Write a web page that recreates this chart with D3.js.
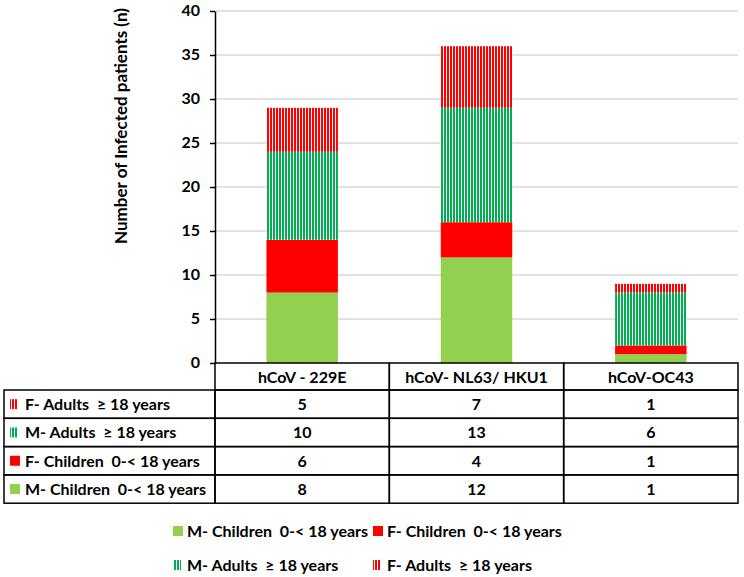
<!DOCTYPE html>
<html>
<head>
<meta charset="utf-8">
<script src="https://cdn.jsdelivr.net/npm/d3@7"></script>
<style>
  body { margin: 0; background: #fff; }
  svg { display: block; font-family: "Lato", "Liberation Sans", sans-serif; font-weight: bold; }
  svg text { white-space: pre; }
  .grid line { stroke: #d9d9d9; stroke-width: 1.5; }
  .y.axis path, .y.axis line { stroke: #000; stroke-width: 1.5; }
  .y.axis text { font-size: 16px; font-weight: bold; fill: #000; font-family: "Lato", sans-serif; }
  .cell { stroke: #000; stroke-width: 1.5; fill: none; }
</style>
</head>
<body>
<div id="chart"></div>
<script>
var categories = ["hCoV - 229E", "hCoV- NL63/ HKU1", "hCoV-OC43"];
var mChildren = [8, 12, 1];
var fChildren = [6, 4, 1];
var mAdults = [10, 13, 6];
var fAdults = [5, 7, 1];
var yTicks = [0, 5, 10, 15, 20, 25, 30, 35, 40];

var seriesNames = ["M- Children  0-< 18 years", "F- Children  0-< 18 years",
                   "M- Adults  \u2265 18 years", "F- Adults  \u2265 18 years"];
var seriesValues = [mChildren, fChildren, mAdults, fAdults];
var seriesFills = ["#92d050", "#ff0000", "url(#greenStripes)", "url(#redStripes)"];

var width = 744, height = 577;
var plotLeft = 215, plotRight = 738, plotTop = 11, plotBottom = 363;

var svg = d3.select("#chart").append("svg")
    .attr("width", width)
    .attr("height", height);

// stripe patterns
var defs = svg.append("defs");
function addStripes(id, color) {
    var p = defs.append("pattern")
        .attr("id", id)
        .attr("patternUnits", "userSpaceOnUse")
        .attr("width", 3)
        .attr("height", 10);
    p.append("rect").attr("width", 3).attr("height", 10).attr("fill", "#fff");
    p.append("rect").attr("width", 2).attr("height", 10).attr("fill", color);
}
addStripes("greenStripes", "#00b050");
addStripes("redStripes", "#ff0000");

var y = d3.scaleLinear().domain([0, 40]).range([plotBottom, plotTop]);
var x = d3.scaleBand().domain(categories).range([plotLeft, plotRight]);
var barWidth = x.bandwidth() * 0.41;

// gridlines
svg.append("g")
    .attr("class", "grid")
    .selectAll("line")
    .data(yTicks.filter(function (d) { return d > 0; }))
    .enter().append("line")
    .attr("x1", plotLeft).attr("x2", plotRight)
    .attr("y1", function (d) { return y(d); })
    .attr("y2", function (d) { return y(d); });

// stacked bars
var stackData = categories.map(function (c, i) {
    var row = { cat: c };
    seriesNames.forEach(function (s, j) { row[s] = seriesValues[j][i]; });
    return row;
});
var stack = d3.stack().keys(seriesNames)(stackData);

svg.append("g").selectAll("g")
    .data(stack)
    .enter().append("g")
    .attr("fill", function (d, i) { return seriesFills[i]; })
    .selectAll("rect")
    .data(function (d) { return d; })
    .enter().append("rect")
    .attr("x", function (d) { return x(d.data.cat) + (x.bandwidth() - barWidth) / 2; })
    .attr("width", barWidth)
    .attr("y", function (d) { return y(d[1]); })
    .attr("height", function (d) { return y(d[0]) - y(d[1]); });

// y axis
var yAxis = d3.axisLeft(y).tickValues(yTicks).tickSize(5).tickPadding(10).tickSizeOuter(0);
svg.append("g")
    .attr("class", "y axis")
    .attr("transform", "translate(" + plotLeft + ",0)")
    .call(yAxis)
    .selectAll("text")
    .attr("dy", "0.3em");

svg.append("text")
    .attr("transform", "translate(127,126) rotate(-90)")
    .attr("text-anchor", "middle")
    .style("font-size", "17px")
    .text("Number of Infected patients (n)");

// data table
var tableLeft = 4;
var headerTop = plotBottom, headerH = 27;
var rowH = 28.3;
var tableRows = [3, 2, 1, 0]; // F-Adults on top, M-Children at bottom
var fs = "16px";

var table = svg.append("g");

// header cells
categories.forEach(function (c) {
    table.append("rect").attr("class", "cell")
        .attr("x", x(c)).attr("y", headerTop)
        .attr("width", x.bandwidth()).attr("height", headerH);
    table.append("text")
        .attr("x", x(c) + x.bandwidth() / 2)
        .attr("y", headerTop + headerH / 2 + 6)
        .attr("text-anchor", "middle")
        .style("font-size", fs)
        .text(c);
});

tableRows.forEach(function (s, r) {
    var top = headerTop + headerH + r * rowH;
    table.append("rect").attr("class", "cell")
        .attr("x", tableLeft).attr("y", top)
        .attr("width", plotLeft - tableLeft).attr("height", rowH);
    table.append("rect")
        .attr("x", 10).attr("y", top + rowH / 2 - 5)
        .attr("width", s < 2 ? 10 : 7).attr("height", 10)
        .attr("fill", seriesFills[s]);
    table.append("text")
        .attr("x", 25).attr("y", top + rowH / 2 + 6)
        .style("font-size", fs)
        .text(seriesNames[s]);
    categories.forEach(function (c, i) {
        table.append("rect").attr("class", "cell")
            .attr("x", x(c)).attr("y", top)
            .attr("width", x.bandwidth()).attr("height", rowH);
        table.append("text")
            .attr("x", x(c) + x.bandwidth() / 2)
            .attr("y", top + rowH / 2 + 6)
            .attr("text-anchor", "middle")
            .style("font-size", fs)
            .text(seriesValues[s][i]);
    });
});

// legend
var legendPos = [[173, 532], [373, 532], [173, 566], [373, 566]];
var legend = svg.append("g");
seriesNames.forEach(function (s, i) {
    var p = legendPos[i];
    legend.append("rect")
        .attr("x", p[0]).attr("y", p[1] - 6)
        .attr("width", i < 2 ? 10 : 8).attr("height", 10)
        .attr("fill", seriesFills[i]);
    legend.append("text")
        .attr("x", p[0] + 14).attr("y", p[1] + 5)
        .style("font-size", fs)
        .text(s);
});
</script>
</body>
</html>
